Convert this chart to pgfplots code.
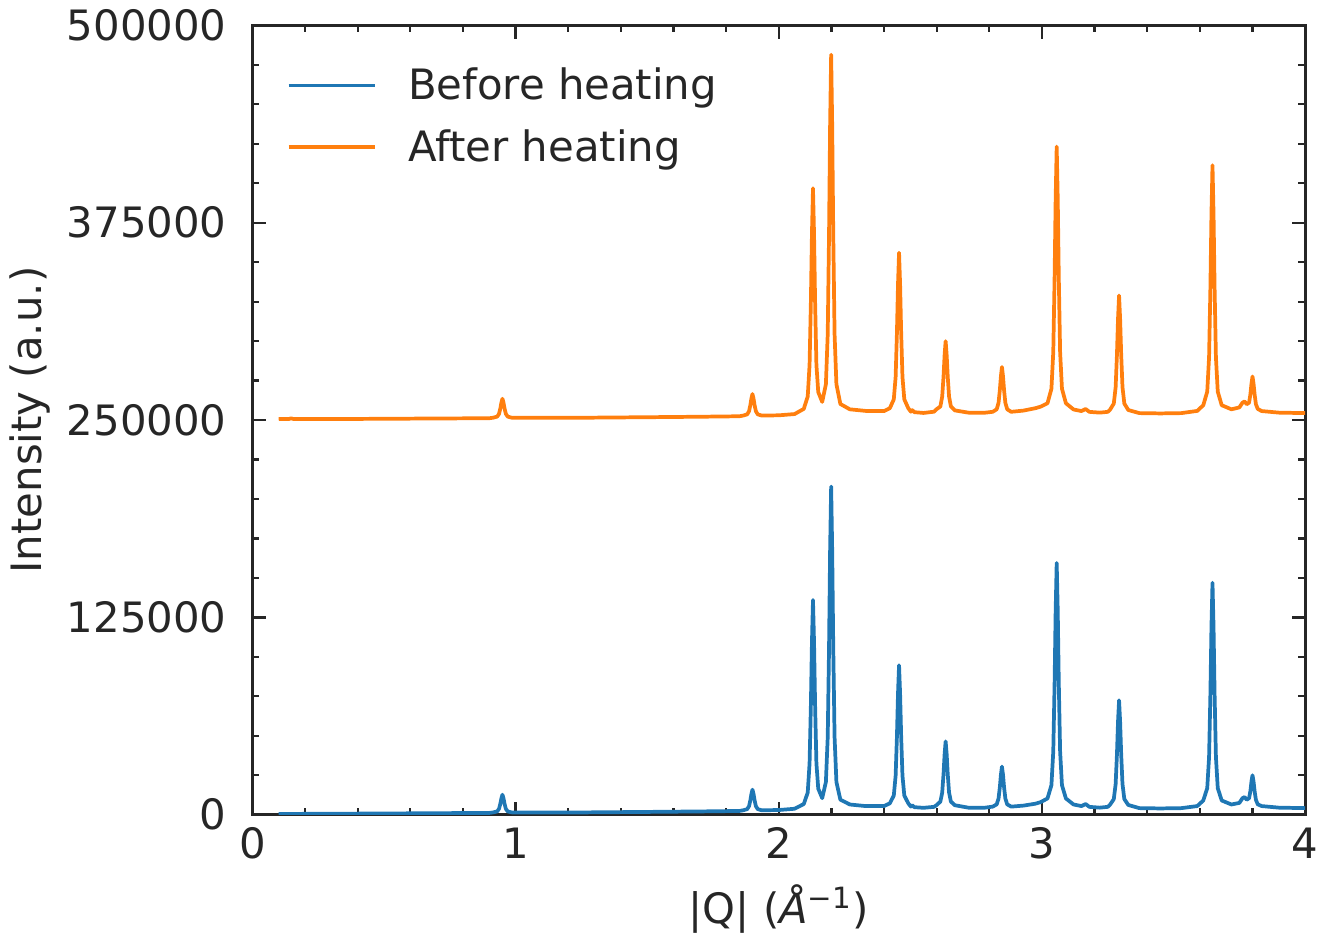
\documentclass[border=0pt]{standalone}
\usepackage{pgfplots}
\pgfplotsset{compat=1.18}
\usepackage{fontspec}
\setmainfont{DejaVu Sans}
\definecolor{mplblue}{HTML}{1F77B4}
\definecolor{mplorange}{HTML}{FF7F0E}
\definecolor{axgray}{HTML}{262626}
\begin{document}
\begin{tikzpicture}
\begin{axis}[
  scale only axis,
  width=367.4pt, height=275.5pt,
  xmin=0, xmax=4, ymin=0, ymax=500000,
  xtick={0,1,2,3,4},
  ytick={0,125000,250000,375000,500000},
  minor x tick num=4, minor y tick num=4,
  tick align=inside,
  major tick length=4.6pt, minor tick length=2.4pt,
  tick style={axgray, line width=0.8pt},
  axis line style={axgray, line width=1pt},
  scaled y ticks=false,
  /pgf/number format/fixed,
  /pgf/number format/1000 sep={},
  /pgf/number format/assume math mode=true,
  tick label style={font=\fontsize{14.6}{16}\selectfont, text=axgray},
  yticklabel style={xshift=-5.5pt},
  xticklabel style={yshift=-1pt},
  label style={font=\fontsize{14.6}{16}\selectfont, text=axgray},
  xlabel={|Q| (\textit{Å}\textsuperscript{−1})},
  ylabel={Intensity (a.u.)},
  xlabel style={yshift=-2pt},
  ylabel style={yshift=-1pt},
  legend style={at={(0.024,0.962)}, anchor=north west, draw=none, fill=none,
    font=\fontsize{14.6}{16}\selectfont, text=axgray, row sep=5pt},
  legend cell align=left,
  legend image code/.code={\draw[#1] (0pt,0pt) -- (30pt,0pt); \path (39pt,0pt);},
]
\addplot[mplblue, line width=1.3pt, line join=round] coordinates {
(0.10,500)(0.30,650)(0.50,800)(0.70,1000)(0.90,1150)
(0.915,1490)(0.930,2120)(0.937,3730)(0.942,6950)(0.946,10400)(0.950,12700)(0.954,10400)(0.958,6950)(0.963,3730)(0.970,2120)(0.985,1490)
(1.2,1400)(1.5,1800)(1.7,2100)(1.85,2400)
(1.865,2835)(1.880,3572)(1.887,5448)(1.892,9200)(1.896,13220)(1.900,15900)(1.904,13220)(1.908,9200)(1.913,5448)(1.920,3572)(1.935,2835)
(2.00,3000)(2.06,3800)
(2.095,6800)(2.110,14060)(2.117,32540)(2.122,69500)(2.126,109100)(2.130,136000)(2.134,109100)(2.138,69500)(2.143,32540)(2.150,16500)(2.165,10500)
(2.179,20740)(2.186,49160)(2.191,106000)(2.195,166900)(2.199,207900)(2.203,166900)(2.207,106000)(2.212,49160)(2.219,20740)(2.234,9575)
(2.27,6500)(2.33,5500)(2.40,5500)
(2.422,7240)(2.437,12160)(2.444,24690)(2.449,49750)(2.453,76600)(2.457,94700)(2.461,76600)(2.465,49750)(2.470,24690)(2.477,12160)(2.492,7240)
(2.502,5200)(2.507,6000)(2.515,4800)(2.55,4400)(2.59,5000)
(2.599,6040)(2.614,8320)(2.621,14130)(2.626,25750)(2.630,38200)(2.634,46500)(2.638,38200)(2.642,25750)(2.647,14130)(2.654,8320)(2.669,6040)
(2.72,4500)(2.78,4400)
(2.813,5150)(2.828,6580)(2.835,10220)(2.840,17500)(2.844,25300)(2.848,30500)(2.852,25300)(2.856,17500)(2.861,10220)(2.868,6580)(2.883,5150)
(2.93,5800)(2.975,7000)(2.995,8000)
(3.021,10325)(3.036,18740)(3.043,40160)(3.048,83000)(3.052,128900)(3.056,159500)(3.060,128900)(3.064,83000)(3.069,40160)(3.076,18740)(3.091,10325)
(3.12,6500)(3.15,5500)(3.166,6800)(3.18,5000)(3.22,4500)(3.25,5000)
(3.258,6200)(3.273,9940)(3.280,19460)(3.285,38500)(3.289,58900)(3.293,72500)(3.297,58900)(3.301,38500)(3.306,19460)(3.313,9940)(3.328,6200)
(3.37,4200)(3.45,4000)(3.53,4200)(3.59,5500)
(3.613,9040)(3.628,16820)(3.635,36630)(3.640,76250)(3.644,118700)(3.648,147000)(3.652,118700)(3.656,76250)(3.661,36630)(3.668,16820)(3.683,9040)
(3.72,6500)(3.75,7500)(3.762,10500)(3.770,11200)(3.778,9500)
(3.787,10500)(3.792,15000)(3.796,21000)(3.800,25000)(3.804,21000)(3.808,15000)(3.813,9400)(3.820,6600)(3.835,5500)
(3.9,4500)(4.0,4200)
};
\addlegendentry{Before heating}
\addplot[mplorange, line width=1.3pt, line join=round] coordinates {
(0.10,250600)(0.14,250700)(0.147,251100)(0.155,250700)(0.30,250650)(0.50,250800)(0.70,251000)(0.90,251150)
(0.915,251508)(0.930,252184)(0.937,253906)(0.942,257350)(0.946,261040)(0.950,263500)(0.954,261040)(0.958,257350)(0.963,253906)(0.970,252184)(0.985,251508)
(1.2,251400)(1.5,251800)(1.7,252100)(1.85,252400)
(1.865,252850)(1.880,253620)(1.887,255580)(1.892,259500)(1.896,263700)(1.900,266500)(1.904,263700)(1.908,259500)(1.913,255580)(1.920,253620)(1.935,252850)
(2.00,253000)(2.06,253800)
(2.095,257075)(2.110,264940)(2.117,284960)(2.122,325000)(2.126,367900)(2.130,396800)(2.134,367900)(2.138,325000)(2.143,284960)(2.150,267700)(2.165,261500)
(2.179,272660)(2.186,304440)(2.191,368000)(2.195,436100)(2.199,481400)(2.203,436100)(2.207,368000)(2.212,304440)(2.219,272660)(2.234,260175)
(2.27,256800)(2.33,255800)(2.40,255700)
(2.422,257525)(2.437,263080)(2.444,277220)(2.449,305500)(2.453,335800)(2.457,356000)(2.461,335800)(2.465,305500)(2.470,277220)(2.477,263080)(2.492,257525)
(2.502,255300)(2.507,256300)(2.515,255000)(2.55,254500)(2.59,255300)
(2.599,256800)(2.614,258600)(2.621,264900)(2.626,277500)(2.630,291000)(2.634,300000)(2.638,291000)(2.642,277500)(2.647,264900)(2.654,258600)(2.669,256125)
(2.72,254700)(2.78,254600)
(2.813,255225)(2.828,256820)(2.835,260880)(2.840,269000)(2.844,277700)(2.848,283600)(2.852,277700)(2.856,269000)(2.861,260880)(2.868,256820)(2.883,255225)
(2.93,256000)(2.975,257500)(2.995,258500)
(3.021,260660)(3.036,269820)(3.043,293130)(3.048,339750)(3.052,389700)(3.056,423200)(3.060,389700)(3.064,339750)(3.069,293130)(3.076,269820)(3.091,260660)
(3.12,256700)(3.15,255700)(3.166,257000)(3.18,255200)(3.22,254700)(3.25,255200)
(3.258,256360)(3.273,260450)(3.280,270870)(3.285,291700)(3.289,314020)(3.293,328900)(3.297,314020)(3.301,291700)(3.306,270870)(3.313,260450)(3.328,256360)
(3.37,254400)(3.45,254200)(3.53,254400)(3.59,255800)
(3.613,259400)(3.628,267980)(3.635,289820)(3.640,333500)(3.644,380300)(3.648,411400)(3.652,380300)(3.656,333500)(3.661,289820)(3.668,267980)(3.683,259400)
(3.72,256800)(3.75,258000)(3.762,261000)(3.770,261800)(3.778,260000)
(3.787,261000)(3.792,266300)(3.796,273000)(3.800,277600)(3.804,273000)(3.808,266300)(3.813,260000)(3.820,257000)(3.835,255700)
(3.9,254700)(4.0,254400)
};
\addlegendentry{After heating}
\end{axis}
\end{tikzpicture}
\end{document}
